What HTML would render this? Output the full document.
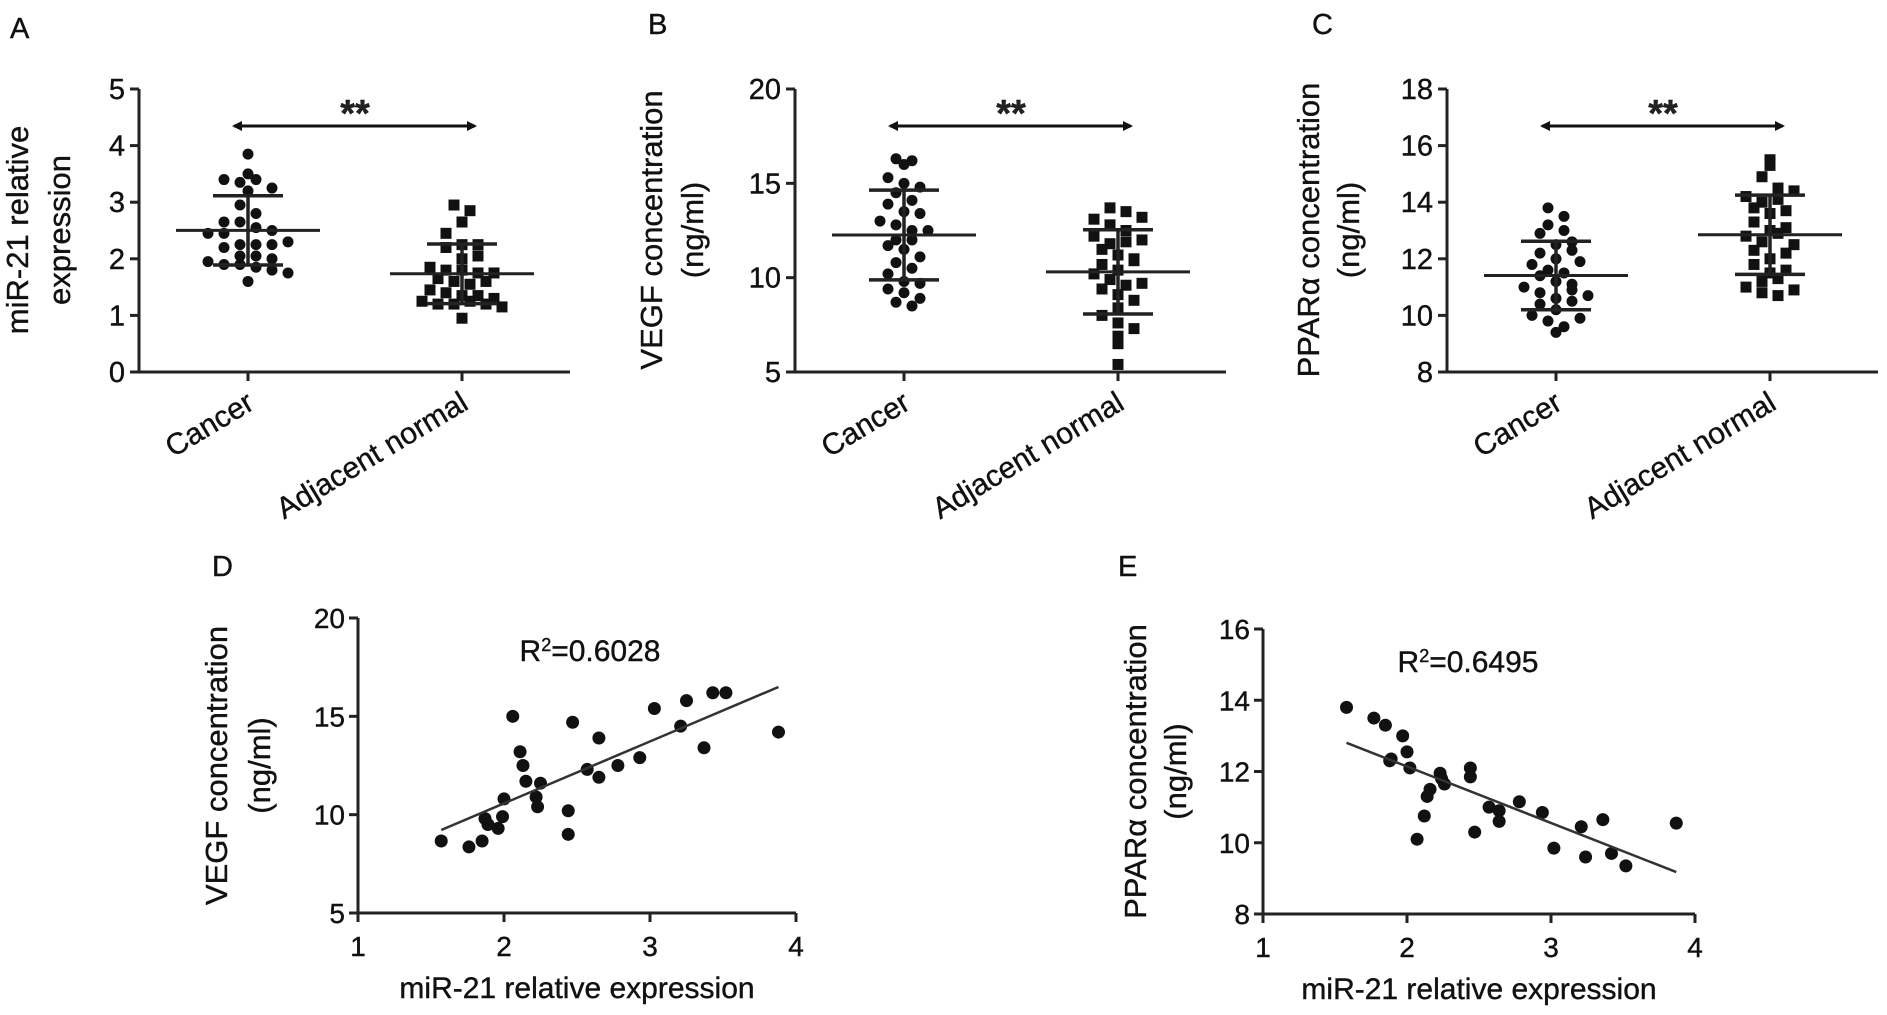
<!DOCTYPE html>
<html><head><meta charset="utf-8"><style>
html,body{margin:0;padding:0;background:#fff;}
svg{display:block;font-family:"Liberation Sans",Arial,sans-serif;}
svg text{stroke:#111;stroke-width:0.4px;}
</style></head><body>
<svg id="fig" width="1887" height="1015" viewBox="0 0 1887 1015">
<defs><marker id="ah" markerWidth="10" markerHeight="10" refX="8" refY="5" orient="auto-start-reverse" markerUnits="userSpaceOnUse"><path d="M0,0 L10,5 L0,10 z" fill="#111"/></marker></defs>
</svg>
<script>
// ---- Panel A data (miR-21) ----
const aCancer=[3.85,3.5,3.4,3.35,3.4,3.2,3.25,2.95,2.8,2.65,2.65,2.55,2.5,2.45,2.45,2.25,2.25,2.2,2.25,2.05,2.05,2.0,1.95,1.9,1.9,1.85,1.8,1.75,1.6,2.3];
const aAdj=[2.95,2.85,2.65,2.45,2.25,2.2,2.25,2.0,2.05,1.85,1.8,1.8,1.75,1.75,1.65,1.6,1.55,1.6,1.45,1.4,1.35,1.35,1.3,1.25,1.2,1.2,1.25,1.2,1.15,0.95];
const aTicks=[0,1,2,3,4,5];
// ---- Panel B data (VEGF) ----
const bCancer=[16.3,16.2,16.0,15.3,15.0,14.8,14.5,14.1,13.9,13.5,13.4,13.0,12.8,12.5,12.5,12.0,12.0,11.7,11.5,11.1,10.8,10.5,10.2,9.8,9.7,9.4,9.2,8.9,8.7,8.5];
const bAdj=[13.7,13.5,13.1,12.8,12.5,12.2,11.8,11.5,11.2,11.0,10.7,10.4,10.2,9.9,9.6,9.4,9.1,8.8,8.4,8.0,7.6,7.3,6.9,6.5,5.4,11.9,10.9,9.7,12.0,13.2];
const bTicks=[5,10,15,20];
// ---- Panel C data (PPARa) ----
const cCancer=[13.8,13.5,13.2,12.9,12.5,12.2,12.0,11.8,11.6,11.4,11.2,11.0,10.8,10.6,10.4,10.2,10.0,9.8,9.6,9.4,12.6,11.5,10.9,13.0,10.5,11.9,9.9,12.3,11.1,10.7];
const cAdj=[15.5,15.3,14.9,14.5,14.2,14.0,13.8,13.6,13.3,13.0,12.8,12.6,12.3,12.0,11.8,11.5,11.2,11.0,10.8,10.7,14.1,12.9,11.6,13.7,12.2,11.3,14.4,12.5,10.9,13.1];
const cTicks=[8,10,12,14,16,18];
const categories=["Cancer","Adjacent normal"];
// ---- Panel D data ----
const dX=[1.57,1.76,1.85,1.87,1.89,1.96,1.99,2.0,2.06,2.11,2.13,2.15,2.22,2.23,2.25,2.44,2.44,2.47,2.57,2.65,2.65,2.78,2.93,3.03,3.21,3.25,3.37,3.43,3.52,3.88];
const dY=[8.66,8.36,8.66,9.8,9.5,9.3,9.9,10.8,15.0,13.2,12.5,11.7,10.9,10.4,11.6,10.2,9.0,14.7,12.3,13.9,11.9,12.5,12.9,15.4,14.5,15.8,13.4,16.2,16.2,14.2];
const dYTicks=[5,10,15,20];
// ---- Panel E data ----
const eX=[1.58,1.77,1.85,1.97,2.0,1.88,1.89,2.02,2.23,2.24,2.26,2.16,2.14,2.12,2.07,2.44,2.44,2.47,2.57,2.64,2.64,2.78,2.94,3.02,3.21,3.36,3.24,3.42,3.52,3.87];
const eY=[13.8,13.5,13.3,13.0,12.55,12.3,12.35,12.1,11.95,11.8,11.65,11.5,11.3,10.75,10.1,12.1,11.85,10.3,11.0,10.9,10.6,11.15,10.85,9.85,10.45,10.65,9.6,9.7,9.35,10.55];
const eYTicks=[8,10,12,14,16];
const xTicks=[1,2,3,4];

const svg=document.getElementById('fig');
const NS='http://www.w3.org/2000/svg';
function mk(tag,attrs,parent){const e=document.createElementNS(NS,tag);for(const k in attrs)e.setAttribute(k,attrs[k]);(parent||svg).appendChild(e);return e;}
function txt(s,attrs,parent){const e=mk('text',attrs,parent);e.textContent=s;return e;}
const mean=a=>a.reduce((s,v)=>s+v,0)/a.length;
const sd=a=>{const m=mean(a);return Math.sqrt(a.reduce((s,v)=>s+(v-m)*(v-m),0)/(a.length-1));};

function panelLabel(s,x,y){const t=txt(s,{x:x,y:y,'font-size':29,fill:'#111'});

}

function dotPanel(id,ox,ticks,ymin,ymax,s1,s2,titleLines,titleX){
  const g=mk('g',{});
  
  
  const top=89,bot=372;
  const y=v=>bot-(v-ymin)/(ymax-ymin)*(bot-top);
  const cx=[ox+109,ox+323];
  const ya=mk('line',{x1:ox,y1:top,x2:ox,y2:bot,stroke:'#222','stroke-width':3},g);
  
  
  const xa=mk('line',{x1:ox-9,y1:bot,x2:ox+431,y2:bot,stroke:'#222','stroke-width':3},g);
  
  
  ticks.forEach(v=>{
    mk('line',{x1:ox-9,y1:y(v),x2:ox,y2:y(v),stroke:'#222','stroke-width':3},g);
    const t=txt(String(v),{x:ox-14,y:y(v)+10,'font-size':29,'text-anchor':'end',fill:'#111'},g);
    
    
  });
  cx.forEach((x,i)=>{
    mk('line',{x1:x,y1:bot,x2:x,y2:bot+9,stroke:'#222','stroke-width':3},g);
    const t=txt(categories[i],{x:0,y:0,'font-size':30,'text-anchor':'end',fill:'#111',transform:`translate(${x+8},${bot+36}) rotate(-31)`},g);
    
    
  });
  titleLines.forEach((s,i)=>{
    const t=txt(s,{x:0,y:0,'font-size':31,'text-anchor':'middle',fill:'#111',transform:`translate(${titleX[i]+10},230) rotate(-90)`},g);
    
    
  });
  const ar=mk('line',{x1:ox+95,y1:126,x2:ox+336,y2:126,stroke:'#111','stroke-width':3,'marker-start':'url(#ah)','marker-end':'url(#ah)'},g);
  
  
  const st=txt('**',{x:ox+216,y:126,'font-size':38,'font-weight':'bold','text-anchor':'middle',fill:'#222'},g);
  
  
  [s1,s2].forEach((arr,gi)=>{
    const x0=cx[gi];
    const bins={};
    arr.forEach(v=>{const k=Math.round(y(v)/14);(bins[k]=bins[k]||[]).push(v);});
    Object.keys(bins).forEach(k=>{
      const list=bins[k];const n=list.length;
      list.forEach((v,j)=>{
        const off=(j-(n-1)/2)*16;
        let m;
        if(gi===0) m=mk('circle',{cx:x0+off,cy:y(v),r:5.5,fill:'#111'},g);
        else m=mk('rect',{x:x0+off-5.5,y:y(v)-5.5,width:11,height:11,fill:'#111'},g);
        
        
      });
    });
    const m=mean(arr),s=sd(arr);
    const ml=mk('line',{x1:x0-72,y1:y(m),x2:x0+72,y2:y(m),stroke:'#222','stroke-width':3},g);
    
    
    [m+s,m-s].forEach(v=>{const l=mk('line',{x1:x0-35,y1:y(v),x2:x0+35,y2:y(v),stroke:'#222','stroke-width':3.5},g);
      
      });
    const vl=mk('line',{x1:x0,y1:y(m+s),x2:x0,y2:y(m-s),stroke:'#222','stroke-width':3.5},g);
    
    
  });
}

function scatterPanel(id,ox,oy,top,xs,ys,yticks,ymin,ymax,pxPerUnit,titleLines,titleX,r2,r2x){
  const g=mk('g',{});
  
  
  const X=v=>ox+(v-1)*pxPerUnit;
  const Y=v=>oy-(v-ymin)/(ymax-ymin)*(oy-top);
  const ya=mk('line',{x1:ox,y1:top,x2:ox,y2:oy+9,stroke:'#222','stroke-width':3},g);
  
  
  const xa=mk('line',{x1:ox-9,y1:oy,x2:X(4),y2:oy,stroke:'#222','stroke-width':3},g);
  
  
  yticks.forEach(v=>{
    mk('line',{x1:ox-9,y1:Y(v),x2:ox,y2:Y(v),stroke:'#222','stroke-width':3},g);
    const t=txt(String(v),{x:ox-13,y:Y(v)+10,'font-size':28,'text-anchor':'end',fill:'#111'},g);
    
    
  });
  xTicks.forEach(v=>{
    mk('line',{x1:X(v),y1:oy,x2:X(v),y2:oy+9,stroke:'#222','stroke-width':3},g);
    const t=txt(String(v),{x:X(v),y:oy+43,'font-size':28,'text-anchor':'middle',fill:'#111'},g);
    
    
  });
  const xt=txt('miR-21 relative expression',{x:X(2.5),y:oy+85,'font-size':30,'text-anchor':'middle',fill:'#111'},g);
  
  
  titleLines.forEach((s,i)=>{
    const t=txt(s,{x:0,y:0,'font-size':31,'text-anchor':'middle',fill:'#111',transform:`translate(${titleX[i]+10},${(top+oy)/2}) rotate(-90)`},g);
    
    
  });
  const rt=mk('text',{x:r2x,y:top+43,'font-size':30,'text-anchor':'middle',fill:'#111'},g);
  rt.innerHTML='R<tspan dy="-10" font-size="18">2</tspan><tspan dy="10">='+r2+'</tspan>';
  
  
  xs.forEach((xv,i)=>{
    const c=mk('circle',{cx:X(xv),cy:Y(ys[i]),r:6.5,fill:'#111'},g);
    
    
  });
  const mx=mean(xs),my=mean(ys);
  let sxy=0,sxx=0;xs.forEach((xv,i)=>{sxy+=(xv-mx)*(ys[i]-my);sxx+=(xv-mx)*(xv-mx);});
  const b=sxy/sxx,a=my-b*mx;
  const x1=Math.min(...xs),x2=Math.max(...xs);
  const fl=mk('line',{x1:X(x1),y1:Y(a+b*x1),x2:X(x2),y2:Y(a+b*x2),stroke:'#333','stroke-width':2.5},g);
  
  
}

panelLabel('A',10,38);panelLabel('B',648,34);panelLabel('C',1312,34);
panelLabel('D',212,576);panelLabel('E',1118,576);
dotPanel('a',139,aTicks,0,5,aCancer,aAdj,['miR-21 relative','expression'],[18,60]);
dotPanel('b',795,bTicks,5,20,bCancer,bAdj,['VEGF concentration','(ng/ml)'],[652,693]);
dotPanel('c',1447,cTicks,8,18,cCancer,cAdj,['PPARα concentration','(ng/ml)'],[1309,1349]);
scatterPanel('d',358,913,618,dX,dY,dYTicks,5,20,146,['VEGF concentration','(ng/ml)'],[217,260],'0.6028',590);
scatterPanel('e',1263,914,629,eX,eY,eYTicks,8,16,144,['PPARα concentration','(ng/ml)'],[1136,1176],'0.6495',1468);
</script>
</body></html>
